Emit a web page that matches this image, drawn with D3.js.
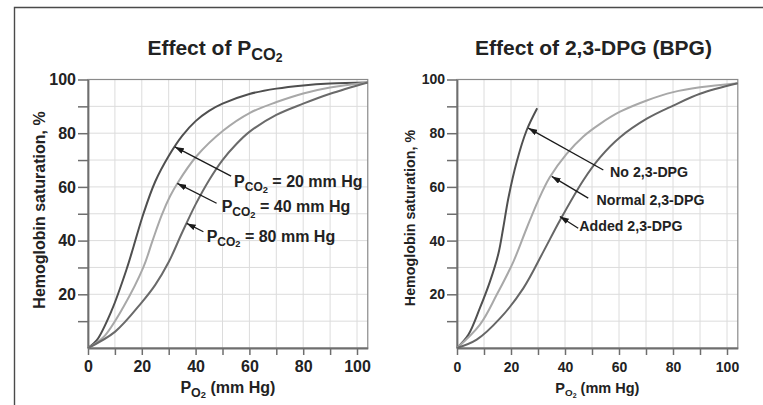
<!DOCTYPE html>
<html>
<head>
<meta charset="utf-8">
<script src="https://cdn.jsdelivr.net/npm/d3@7"></script>
<style>
body { margin: 0; background: #fff; }
svg text { font-family: "Liberation Sans", Arial, sans-serif; font-weight: bold; fill: #222; }
</style>
</head>
<body>
<div id="chart"></div>
<script>
// axis ticks (mm Hg and %)
var po2_minor = [0, 10, 20, 30, 40, 50, 60, 70, 80, 90, 100];
var po2_labels = [0, 20, 40, 60, 80, 100];
var sat_minor = [10, 20, 30, 40, 50, 60, 70, 80, 90, 100];
var sat_labels = [20, 40, 60, 80, 100];

// left panel, points are [PO2, saturation %]
var pco2_20 = [[0, 0], [3.2, 2.8], [8.8, 14], [14.4, 29.5], [17, 38], [20.6, 50],
               [25, 62], [30, 71.5], [35, 79], [40, 84.5], [45, 88.3], [50, 91],
               [60, 94.6], [70, 96.6], [80, 97.8], [90, 98.5], [104, 98.9]];
var pco2_40 = [[0, 0], [5.7, 4], [13.1, 15.2], [20.6, 30.1], [24, 40], [27.4, 49.5],
               [30.5, 56.5], [33.2, 61.3], [40.4, 71.5], [50.3, 81], [60.2, 87.6],
               [70.1, 91.6], [80, 94.8], [90, 97], [104, 98.9]];
var pco2_80 = [[0, 0], [10, 6], [20, 17], [25, 23.5], [30, 32], [35, 43], [40, 53.5],
               [45, 62.5], [50, 70], [55, 75.8], [60, 80.5], [70, 86.8], [80, 91],
               [90, 94.7], [104, 98.9]];

// right panel
var dpg_none = [[0, 0], [4.2, 4.9], [8.5, 14.9], [12.2, 24.7], [15.3, 35], [17.1, 44.6],
                [19, 55.7], [22.1, 69.3], [25.8, 81.1], [29.7, 89.3]];
var dpg_normal = [[0, 0], [8.5, 8.7], [14.7, 19.8], [20.9, 32.2], [25.8, 44.6], [30.1, 55],
                  [34.3, 63.5], [40.6, 72.3], [46.8, 78.8], [53, 83.5], [60.4, 88],
                  [70.3, 92.2], [80.1, 95.3], [90, 97.1], [104, 98.6]];
var dpg_added = [[0, 0], [7.3, 3.1], [16, 11.1], [24.6, 22.3], [32, 35.9], [38.1, 47.5],
                 [46.8, 62.5], [53, 71], [60.4, 78.5], [70.3, 85.4],
                 [80.1, 90.3], [90, 94.7], [104, 98.6]];

var pco2_values = ["20", "40", "80"];
var dpg_names = ["No 2,3-DPG", "Normal 2,3-DPG", "Added 2,3-DPG"];

var svg = d3.select("#chart")
    .append("svg")
    .attr("width", 763)
    .attr("height", 405);

svg.append("defs")
    .append("marker")
    .attr("id", "head")
    .attr("viewBox", "0 0 9 6")
    .attr("refX", 9)
    .attr("refY", 3)
    .attr("markerWidth", 9)
    .attr("markerHeight", 6)
    .attr("markerUnits", "userSpaceOnUse")
    .attr("orient", "auto")
    .append("path")
    .attr("d", "M0,0L9,3L0,6z")
    .attr("fill", "#1a1a1a");

// outer frame
svg.append("path")
    .attr("d", "M14.5,405V7.5H763")
    .attr("fill", "none")
    .attr("stroke", "#4a4a4a")
    .attr("stroke-width", 1.4);

// write text made of parts, level 1 = subscript, level 2 = sub-subscript
function rich_text(sel, parts, size, s1, s2) {
    var shift = 0;
    parts.forEach(function(p) {
        var fs = p.lv == 1 ? size * s1 : p.lv == 2 ? size * s2 : size;
        var target = p.lv == 1 ? size * 0.26 : p.lv == 2 ? size * 0.36 : 0;
        sel.append("tspan")
            .attr("dy", target - shift)
            .attr("font-size", fs)
            .text(p.t);
        shift = target;
    });
}

function draw_panel(p) {
    var x = d3.scaleLinear().domain([0, 104]).range([p.left, p.left + 104 * p.unit]);
    var y = d3.scaleLinear().domain([0, 100]).range([348, 79.5]);
    var g = svg.append("g");

    // grid
    g.append("g")
        .selectAll("line")
        .data(po2_minor)
        .enter()
        .append("line")
        .attr("x1", function(d) { return x(d) })
        .attr("x2", function(d) { return x(d) })
        .attr("y1", y(0))
        .attr("y2", y(100))
        .attr("stroke", "#dcdcdc");
    g.append("g")
        .selectAll("line")
        .data(sat_minor)
        .enter()
        .append("line")
        .attr("x1", x(0))
        .attr("x2", x(104))
        .attr("y1", function(d) { return y(d) })
        .attr("y2", function(d) { return y(d) })
        .attr("stroke", "#dcdcdc");

    g.append("rect")
        .attr("x", x(0))
        .attr("y", y(100))
        .attr("width", x(104) - x(0))
        .attr("height", y(0) - y(100))
        .attr("fill", "none")
        .attr("stroke", "#8a8a8a")
        .attr("stroke-width", 1.2);

    // axes
    var ax = g.append("g")
        .attr("transform", "translate(0," + y(0) + ")")
        .call(d3.axisBottom(x)
              .tickValues(po2_minor)
              .tickSize(7)
              .tickSizeOuter(0)
              .tickPadding(p.xpad)
              .tickFormat(function(d) { return po2_labels.indexOf(d) >= 0 ? d : ""; }));
    var ay = g.append("g")
        .attr("transform", "translate(" + x(0) + ",0)")
        .call(d3.axisLeft(y)
              .tickValues(sat_minor)
              .tickSize(10)
              .tickSizeOuter(0)
              .tickPadding(2)
              .tickFormat(function(d) { return sat_labels.indexOf(d) >= 0 ? d : ""; }));
    [ax, ay].forEach(function(a) {
        a.select(".domain").attr("stroke", "#6e6e6e").attr("stroke-width", 1.8);
        a.selectAll(".tick line").attr("stroke", "#6e6e6e").attr("stroke-width", 1.5);
        a.selectAll(".tick text")
            .attr("font-family", null)
            .attr("font-size", p.tick_size)
            .attr("fill", "#2a2a2a");
    });

    // curves
    var line = d3.line()
        .x(function(d) { return x(d[0]) })
        .y(function(d) { return y(d[1]) })
        .curve(d3.curveCatmullRom.alpha(0.5));
    p.series.forEach(function(s, i) {
        g.append("path")
            .datum(s)
            .attr("d", line)
            .attr("fill", "none")
            .attr("stroke", p.colors[i])
            .attr("stroke-width", 2);
    });

    // arrows + labels
    p.notes.forEach(function(n, i) {
        g.append("line")
            .attr("x1", x(n.tail[0]))
            .attr("y1", y(n.tail[1]))
            .attr("x2", x(n.tip[0]))
            .attr("y2", y(n.tip[1]))
            .attr("stroke", "#1a1a1a")
            .attr("stroke-width", 1.3)
            .attr("marker-end", "url(#head)");
        var t = g.append("text")
            .attr("x", x(n.text[0]))
            .attr("y", y(n.text[1]));
        rich_text(t, p.note_parts(i), p.note_size, 0.75, 0.58);
    });

    // titles
    var tt = g.append("text")
        .attr("x", p.title_x)
        .attr("y", 54.5)
        .attr("text-anchor", "middle");
    rich_text(tt, p.title, 21, 0.78, 0.58);

    var xl = g.append("text")
        .attr("x", (x(0) + x(104)) / 2)
        .attr("y", 392.5)
        .attr("text-anchor", "middle");
    rich_text(xl, [{t: "P"}, {t: "O", lv: 1}, {t: "2", lv: 2}, {t: " (mm Hg)"}],
              p.xlab_size, p.xsub[0], p.xsub[1]);

    g.append("text")
        .attr("transform", "translate(" + p.ylab_x + "," + p.ylab_y + ") rotate(-90)")
        .attr("text-anchor", "middle")
        .attr("font-size", p.ylab_size)
        .text("Hemoglobin saturation, %");
}

draw_panel({
    left: 88, unit: 2.69, xpad: 6, tick_size: 16,
    series: [pco2_20, pco2_40, pco2_80],
    colors: ["#4f4f4f", "#a8a8a8", "#6a6a6a"],
    notes: [{tip: [32.3, 74.9], tail: [53.2, 64], text: [54.3, 60]},
            {tip: [33.2, 61.3], tail: [47.8, 53.9], text: [49.7, 50.6]},
            {tip: [36.7, 46.4], tail: [42.9, 43.3], text: [44.1, 39.6]}],
    note_size: 16,
    note_parts: function(i) {
        return [{t: "P"}, {t: "CO", lv: 1}, {t: "2", lv: 2},
                {t: " = " + pco2_values[i] + " mm Hg"}];
    },
    title_x: 215,
    title: [{t: "Effect of P"}, {t: "CO", lv: 1}, {t: "2", lv: 2}],
    xlab_size: 16, xsub: [0.78, 0.58],
    ylab_x: 45, ylab_y: 210, ylab_size: 16
});

draw_panel({
    left: 457, unit: 2.70, xpad: 7, tick_size: 14,
    series: [dpg_none, dpg_normal, dpg_added],
    colors: ["#505050", "#a8a8a8", "#666666"],
    notes: [{tip: [26.4, 81.9], tail: [54.2, 66.3], text: [56.7, 63.8]},
            {tip: [35.1, 63.9], tail: [48.6, 55.8], text: [51.7, 53.3]},
            {tip: [38.1, 49], tail: [44.9, 44.6], text: [45.3, 43.4]}],
    note_size: 14.2,
    note_parts: function(i) { return [{t: dpg_names[i]}]; },
    title_x: 593.5,
    title: [{t: "Effect of 2,3-DPG (BPG)"}],
    xlab_size: 14.5, xsub: [0.68, 0.48],
    ylab_x: 415, ylab_y: 218, ylab_size: 14.3
});
</script>
</body>
</html>
